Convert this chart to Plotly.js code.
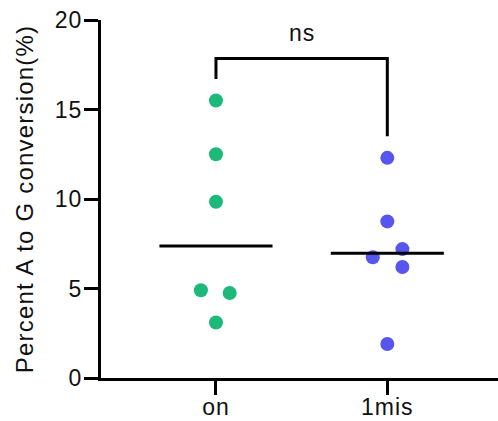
<!DOCTYPE html>
<html>
<head>
<meta charset="utf-8">
<script src="https://cdn.plot.ly/plotly-3.0.1.min.js"></script>
<style>html,body{margin:0;padding:0;background:#fff;}#chart{width:498px;height:421px;}
.ytitle{letter-spacing:1.2px;}
.xtick text,.ytick text,.annotation-text{letter-spacing:1px;}</style>
</head>
<body>
<div id="chart"></div>
<script>
// ---- data ----
const categories = ['on', '1mis'];
const onValues = [15.5, 12.5, 9.85, 4.9, 4.75, 3.1];
const onJitter = [0, 0, 0, -0.088, 0.08, 0];
const misValues = [12.3, 8.75, 7.2, 6.75, 6.2, 1.9];
const misJitter = [0, 0, 0.088, -0.085, 0.088, 0];
const yTicks = [0, 5, 10, 15, 20];
const bracketTop = 17.85;
const bracketLeftEnd = 16.7;
const bracketRightEnd = 13.5;
const sigLabel = 'ns';
const sigLabelY = 19.25;

function median(a) {
  const s = a.slice().sort((p, q) => p - q);
  const m = Math.floor(s.length / 2);
  return s.length % 2 ? s[m] : (s[m - 1] + s[m]) / 2;
}

const groups = [
  {vals: onValues, jit: onJitter, color: '#1DB97A'},
  {vals: misValues, jit: misJitter, color: '#5656EE'}
];
const halfWidth = 0.33;
const font = 'Liberation Sans, Arial, sans-serif';

const traces = [];
groups.forEach((g, i) => {
  traces.push({
    type: 'scatter', mode: 'markers',
    x: g.vals.map((v, k) => i + g.jit[k]), y: g.vals,
    marker: {color: g.color, size: 14},
    cliponaxis: false, showlegend: false, hoverinfo: 'y'
  });
  const med = median(g.vals);
  traces.push({
    type: 'scatter', mode: 'lines',
    x: [i - halfWidth, i + halfWidth], y: [med, med],
    line: {color: '#000', width: 3},
    showlegend: false, hoverinfo: 'skip'
  });
});
// significance bracket
traces.push({
  type: 'scatter', mode: 'lines',
  x: [0, 0, 1, 1], y: [bracketLeftEnd, bracketTop, bracketTop, bracketRightEnd],
  line: {color: '#000', width: 3}, cliponaxis: false,
  showlegend: false, hoverinfo: 'skip'
});

const layout = {
  width: 498, height: 421,
  margin: {l: 101, r: 0, t: 20, b: 43},
  paper_bgcolor: '#fff', plot_bgcolor: '#fff',
  font: {family: font, color: '#000', size: 23},
  xaxis: {
    range: [-0.671, 1.646], tickvals: [0, 1], ticktext: categories,
    showline: true, linewidth: 3, linecolor: '#000',
    ticks: 'outside', ticklen: 14, tickwidth: 3, tickcolor: '#000',
    showgrid: false, zeroline: false, tickfont: {size: 23, family: font, color: '#111'},
    ticklabelstandoff: -8
  },
  yaxis: {
    range: [0, 20], tickvals: yTicks,
    showline: true, linewidth: 3, linecolor: '#000',
    ticks: 'outside', ticklen: 14, tickwidth: 3, tickcolor: '#000',
    showgrid: false, zeroline: false, tickfont: {size: 23, family: font, color: '#111'},
    ticklabelstandoff: -3,
    title: {text: 'Percent A to G conversion(%)', font: {size: 24, family: font, color: '#111'}, standoff: 15}
  },
  annotations: [{
    x: 0.5, y: sigLabelY, xref: 'x', yref: 'y', text: sigLabel,
    showarrow: false, font: {size: 23, family: font, color: '#111'}
  }]
};

Plotly.newPlot('chart', traces, layout, {displayModeBar: false, staticPlot: true});
</script>
</body>
</html>
